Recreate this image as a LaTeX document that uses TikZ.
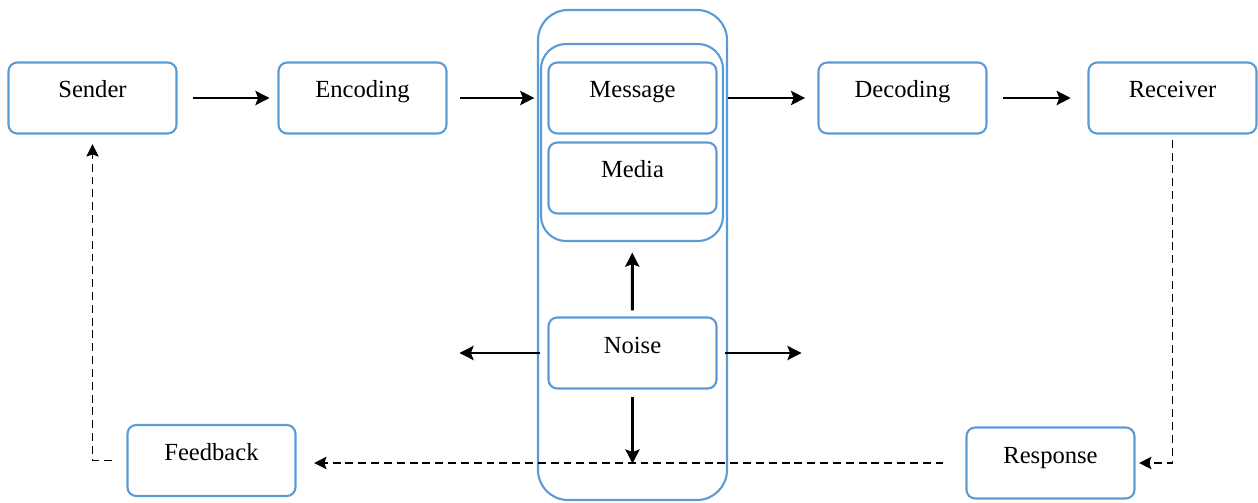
\documentclass[tikz,border=0pt]{standalone}
\usepackage{fontspec}
\setmainfont{Liberation Serif}
\usepackage{xcolor}
\definecolor{boxBlue}{HTML}{5B9BD5}
\usepackage{tikz}
\usetikzlibrary{positioning,arrows.meta}

\begin{document}
\begin{tikzpicture}[
            node distance=5.4cm,
            box/.style={
                draw=boxBlue,
                rectangle,
                rounded corners=5pt,
                line width=1.2pt,
                minimum width=3.36cm,
                minimum height=1.42cm,
                inner sep=0pt,
                text height=0.5cm,
                text depth=0.5cm,
                font=\fontsize{14}{16}\selectfont
            },
            frame/.style={
                draw=boxBlue,
                rectangle,
                line width=1.2pt,
                inner sep=0pt
            },
            arrow/.style={
                -{Stealth[length=8pt,width=8pt,inset=1.5pt]},
                line width=1.7pt,
                color=black
            },
            reply/.style={
                -{Stealth[length=7pt,width=7pt,inset=1.2pt]},
                line width=1.1pt,
                dash pattern=on 4.5pt off 2.8pt,
                color=black
            }
        ]
            \useasboundingbox (0,0) rectangle (25.16,10.04);

            % channel frames behind the boxes
            \node (frame) [frame, rounded corners=0.6cm, minimum width=3.78cm, minimum height=9.8cm] at (12.65,4.94) {};
            \node (channel) [frame, rounded corners=0.5cm, minimum width=3.64cm, minimum height=3.94cm] at (12.64,7.19) {};

            \node (sender) [box] at (1.85,8.08) {Sender};
            \node (encoding) [box, right of=sender] {Encoding};
            \node (message) [box, right of=encoding] {Message};
            \node (decoding) [box, right of=message] {Decoding};
            \node (receiver) [box, right of=decoding] {Receiver};
            \node (media) [box, below of=message, node distance=1.6cm] {Media};
            \node (noise) [box, below of=media, node distance=3.5cm] {Noise};
            \node (feedback) [box] at (4.23,0.83) {Feedback};
            \node (response) [box] at (21.01,0.78) {Response};

            \path (noise.south) ++(0,-1.48) coordinate (sinkdown);
            \path (noise.west) ++(-1.76,0) coordinate (sinkleft);
            \path (noise.east) ++(1.68,0) coordinate (sinkright);

            \draw[arrow, shorten <=9pt, shorten >=4.5pt] (sender) -- (encoding);
            \draw[arrow, shorten <=7pt, shorten >=1.5pt] (encoding) -- (encoding -| frame.west);
            \draw[arrow, shorten >=7pt] (frame.east |- decoding) -- (decoding);
            \draw[arrow, shorten <=9pt, shorten >=9.5pt] (decoding) -- (receiver);

            % noise spreads in every direction
            \draw[arrow, shorten <=3.5pt, shorten >=6pt] (noise) -- (channel);
            \draw[arrow, shorten <=4pt] (noise) -- (sinkdown);
            \draw[arrow, shorten <=4pt] (noise) -- (sinkleft);
            \draw[arrow, shorten <=4pt] (noise) -- (sinkright);

            % feedback loop
            \draw[reply, shorten <=3pt, shorten >=2pt] (receiver.south) |- (response.east);
            \draw[reply, shorten <=12.5pt, shorten >=10pt] (response) -- (response -| feedback.east);
            \draw[reply, shorten <=8.5pt, shorten >=5.5pt] (feedback.west) -| (sender.south);
        \end{tikzpicture}
\end{document}
